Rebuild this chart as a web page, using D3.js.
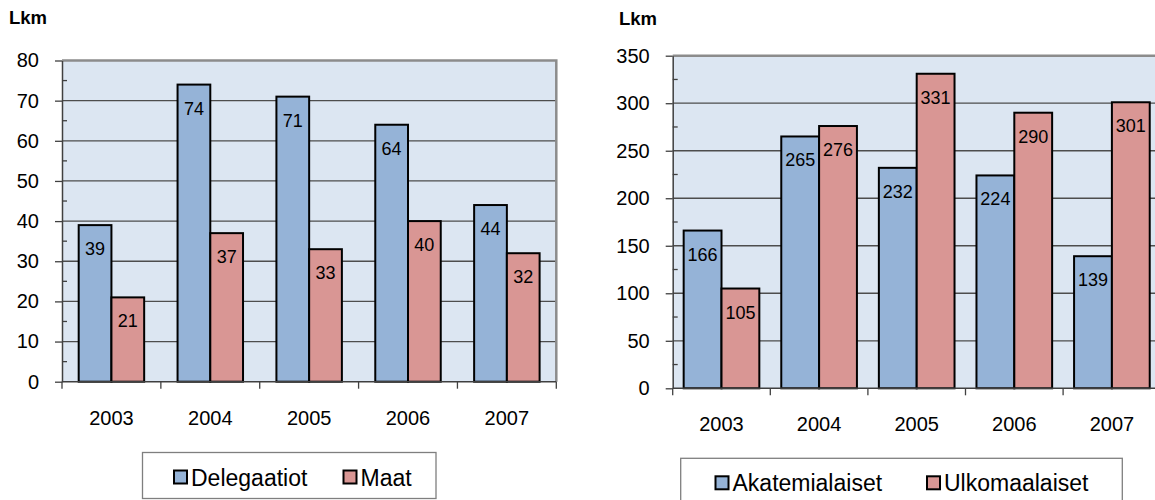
<!DOCTYPE html>
<html>
<head>
<meta charset="utf-8">
<script src="https://cdn.jsdelivr.net/npm/d3@7/dist/d3.min.js"></script>
<style>
  body { margin: 0; background: #fff; }
  svg { display: block; font-family: "Liberation Sans", Arial, sans-serif; }
</style>
</head>
<body>
<svg width="1155" height="500" id="mainsvg"></svg>
<script>
// data
const years = ['2003', '2004', '2005', '2006', '2007'];
const delegaatiot = [39, 74, 71, 64, 44];
const maat = [21, 37, 33, 40, 32];
const akatemialaiset = [166, 265, 232, 224, 139];
const ulkomaalaiset = [105, 276, 331, 290, 301];
const seriesNamesL = ['Delegaatiot', 'Maat'];
const seriesNamesR = ['Akatemialaiset', 'Ulkomaalaiset'];
const yTicksL = [0, 10, 20, 30, 40, 50, 60, 70, 80];
const yTicksR = [0, 50, 100, 150, 200, 250, 300, 350];

const colors = ['#95b3d7', '#d99694'];
const svg = d3.select('svg');

function drawChart(cfg) {
    const g = svg.append('g');
    const x = d3.scaleBand().domain(years).range([cfg.left, cfg.right]).padding(0);
    const xs = d3.scaleBand().domain(cfg.names).range([0, x.bandwidth()])
        .paddingInner(0).paddingOuter(cfg.outer);
    const y = d3.scaleLinear().domain([0, cfg.max]).range([cfg.bottom, cfg.top]);

    // plot background
    g.append('rect')
        .attr('x', cfg.left).attr('y', cfg.top)
        .attr('width', cfg.right - cfg.left).attr('height', cfg.bottom - cfg.top)
        .attr('fill', '#dce6f2');

    // gridlines
    g.selectAll('.grid').data(cfg.ticks.filter(t => t > 0 && t < cfg.max)).join('line')
        .attr('x1', cfg.left).attr('x2', cfg.right)
        .attr('y1', d => y(d)).attr('y2', d => y(d))
        .attr('stroke', '#4d4d4d').attr('stroke-width', 1.3);

    // top and right border
    g.append('path')
        .attr('d', `M${cfg.left},${cfg.top}H${cfg.right}V${cfg.bottom}`)
        .attr('fill', 'none').attr('stroke', '#8c8c8c').attr('stroke-width', 2.5);

    // bars
    const rows = years.map((yr, i) => ({ yr, vals: cfg.series.map(s => s[i]) }));
    const grp = g.selectAll('.cat').data(rows).join('g')
        .attr('transform', d => `translate(${x(d.yr)},0)`);
    grp.selectAll('rect').data(d => d.vals.map((v, k) => ({ v, k }))).join('rect')
        .attr('x', d => xs(cfg.names[d.k]))
        .attr('y', d => y(d.v))
        .attr('width', xs.bandwidth())
        .attr('height', d => cfg.bottom - y(d.v))
        .attr('fill', d => colors[d.k])
        .attr('stroke', '#000').attr('stroke-width', 2);
    grp.selectAll('text').data(d => d.vals.map((v, k) => ({ v, k }))).join('text')
        .attr('x', d => xs(cfg.names[d.k]) + xs.bandwidth() / 2)
        .attr('y', d => y(d.v) + 30)
        .attr('text-anchor', 'middle')
        .attr('font-size', 18)
        .text(d => d.v);

    // y axis
    const ya = g.append('g').attr('transform', `translate(${cfg.left},0)`)
        .call(d3.axisLeft(y).tickValues(cfg.ticks).tickSize(7).tickPadding(16).tickSizeOuter(0));
    ya.select('.domain').attr('stroke', '#404040').attr('stroke-width', 1.5);
    ya.selectAll('.tick line').attr('stroke', '#404040').attr('stroke-width', 1.3);
    ya.selectAll('.tick text').attr('font-size', 20).attr('fill', '#000')
        .attr('font-family', '"Liberation Sans", Arial, sans-serif');
    const minor = d3.range(cfg.minor, cfg.max, cfg.minor).filter(v => !cfg.ticks.includes(v));
    g.selectAll('.minor').data(minor).join('line')
        .attr('x1', cfg.left).attr('x2', cfg.left + 5)
        .attr('y1', d => y(d)).attr('y2', d => y(d))
        .attr('stroke', '#404040').attr('stroke-width', 1.3);

    // x axis
    g.append('line')
        .attr('x1', cfg.left).attr('x2', cfg.right)
        .attr('y1', cfg.bottom).attr('y2', cfg.bottom)
        .attr('stroke', '#404040').attr('stroke-width', 1.5);
    g.selectAll('.xt').data(d3.range(years.length + 1)).join('line')
        .attr('x1', i => cfg.left + i * x.step()).attr('x2', i => cfg.left + i * x.step())
        .attr('y1', cfg.bottom).attr('y2', cfg.bottom + 7)
        .attr('stroke', '#404040').attr('stroke-width', 1.3);
    g.selectAll('.xl').data(years).join('text')
        .attr('x', d => x(d) + x.bandwidth() / 2)
        .attr('y', cfg.bottom + 43)
        .attr('text-anchor', 'middle').attr('font-size', 20)
        .text(d => d);

    // unit label
    g.append('text').attr('x', cfg.unitX).attr('y', cfg.unitY)
        .attr('font-size', 18.5).attr('font-weight', 'bold').text('Lkm');

    // legend
    const lg = cfg.legend;
    g.append('rect')
        .attr('x', lg.x).attr('y', lg.y).attr('width', lg.w).attr('height', lg.h)
        .attr('fill', '#fff').attr('stroke', '#7f7f7f').attr('stroke-width', 1.3);
    cfg.names.forEach((n, k) => {
        g.append('rect')
            .attr('x', lg.items[k]).attr('y', lg.y + 18)
            .attr('width', 13).attr('height', 13)
            .attr('fill', colors[k]).attr('stroke', '#000').attr('stroke-width', 2);
        g.append('text')
            .attr('x', lg.items[k] + 17).attr('y', lg.y + 33)
            .attr('font-size', 23).text(n);
    });
}

drawChart({
    names: seriesNamesL, series: [delegaatiot, maat],
    left: 62, right: 556.3, top: 60.5, bottom: 381.7,
    max: 80, ticks: yTicksL, minor: 5, outer: 0.51,
    unitX: 9, unitY: 24,
    legend: { x: 142.5, y: 452.5, w: 293.5, h: 46, items: [174, 343.5] }
});

drawChart({
    names: seriesNamesR, series: [akatemialaiset, ulkomaalaiset],
    left: 672.7, right: 1160.7, top: 55.7, bottom: 388.3,
    max: 350, ticks: yTicksR, minor: 25, outer: 0.29,
    unitX: 619, unitY: 25,
    legend: { x: 680.7, y: 458.3, w: 441.6, h: 46, items: [715.5, 927] }
});
</script>
</body>
</html>
